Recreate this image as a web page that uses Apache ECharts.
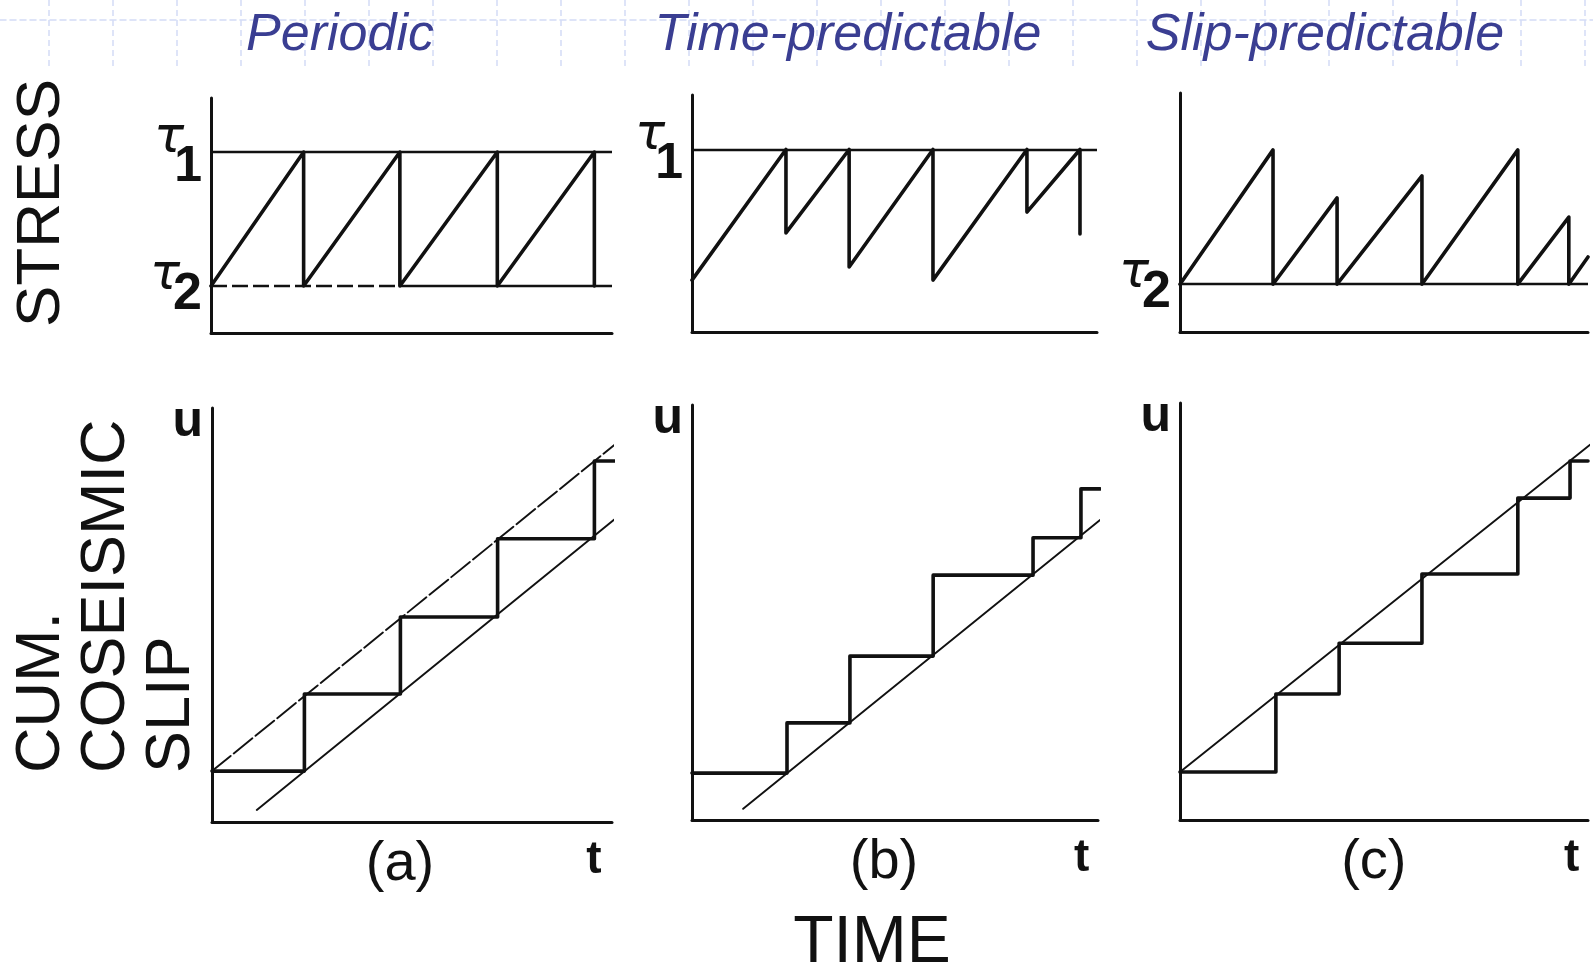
<!DOCTYPE html>
<html>
<head>
<meta charset="utf-8">
<title>Stress and slip in earthquake recurrence models</title>
<script src="https://cdn.jsdelivr.net/npm/echarts@6.0.0/dist/echarts.min.js"></script>
<style>
html, body { margin: 0; padding: 0; background: #fff; }
#chart { width: 1593px; height: 971px; }
</style>
</head>
<body>
<div id="chart"></div>
<script>
const panelTitles = ['Periodic', 'Time-predictable', 'Slip-predictable']
const panelTags = ['(a)', '(b)', '(c)']

// stress levels (axis units 0..10)
const tau1 = 7.7
const tau2 = 2.0
const tau2DashedUntil = 4.71

// stress history, [time, stress]
const periodicStress = [
  [0, 2.0], [2.31, 7.7], [2.31, 2.0], [4.71, 7.7], [4.71, 2.0],
  [7.14, 7.7], [7.14, 2.0], [9.56, 7.7], [9.56, 2.0]
]
const timePredStress = [
  [0, 2.19], [2.32, 7.7], [2.32, 4.18], [3.88, 7.7], [3.88, 2.74],
  [5.95, 7.7], [5.95, 2.19], [8.27, 7.7], [8.27, 5.06], [9.58, 7.7], [9.58, 4.14]
]
const slipPredStress = [
  [0, 2.0], [2.28, 7.62], [2.28, 2.0], [3.85, 5.61], [3.85, 2.0],
  [5.93, 6.53], [5.93, 2.0], [8.28, 7.62], [8.28, 2.0], [9.53, 4.81], [9.53, 2.0], [10, 3.14]
]

// cumulative coseismic slip, [time, slip]
const periodicSlip = [
  [0, 1.23], [2.31, 1.23], [2.31, 3.09], [4.71, 3.09], [4.71, 4.95],
  [7.14, 4.95], [7.14, 6.84], [9.56, 6.84], [9.56, 8.72], [10.08, 8.72]
]
const timePredSlip = [
  [0, 1.13], [2.34, 1.13], [2.34, 2.34], [3.89, 2.34], [3.89, 3.95],
  [5.94, 3.95], [5.94, 5.9], [8.4, 5.9], [8.4, 6.8], [9.58, 6.8], [9.58, 7.98], [10.05, 7.98]
]
const slipPredSlip = [
  [0, 1.15], [2.35, 1.15], [2.35, 3.02], [3.9, 3.02], [3.9, 4.24],
  [5.93, 4.24], [5.93, 5.9], [8.28, 5.9], [8.28, 7.72], [9.56, 7.72], [9.56, 8.61], [10, 8.61]
]

// long-term slip rate lines
const periodicUpper = [[0, 1.23], [10.15, 9.18]]
const periodicLower = [[1.12, 0.29], [10.2, 7.42]]
const timePredLine = [[1.26, 0.27], [10.05, 7.23]]
const slipPredLine = [[0, 1.15], [10.05, 9.0]]

// where the axis captions sit, in axis units
const tagAt = [4.7, 4.73, 4.75]
const tAt = [9.55, 9.6, 9.6]
const uAt = 9.65

const INK = '#111'
const TITLE = '#3a3e92'
const SANS = '"Liberation Sans", Arial, sans-serif'

// panel boxes: stress row then slip row
const boxes = [
  { left: 211, top: 98, width: 401, height: 235 },
  { left: 692, top: 95, width: 405, height: 237 },
  { left: 1180, top: 93, width: 408, height: 239 },
  { left: 212, top: 408, width: 400, height: 414 },
  { left: 692, top: 405, width: 406, height: 415 },
  { left: 1180, top: 403, width: 408, height: 417 }
]

const labelRich = {
  tau: { fontFamily: 'DejaVu Sans', fontStyle: 'italic', fontSize: 50, color: INK, lineHeight: 30, padding: [0, 18, 0, 0] },
  one: { fontFamily: SANS, fontWeight: 'bold', fontSize: 50, color: INK, lineHeight: 26 },
  tauLow: { fontFamily: 'DejaVu Sans', fontStyle: 'italic', fontSize: 50, color: INK, lineHeight: 17, padding: [0, 22, 0, 0] },
  two: { fontFamily: SANS, fontWeight: 'bold', fontSize: 52, color: INK, lineHeight: 20 },
  u: { fontFamily: SANS, fontWeight: 'bold', fontSize: 50, color: INK },
  tag: { fontFamily: SANS, fontSize: 56, color: INK },
  t: { fontFamily: SANS, fontWeight: 'bold', fontSize: 46, color: INK }
}

function xAxisFor(i) {
  const col = i % 3
  const slipRow = i >= 3
  return {
    gridIndex: i,
    type: 'value',
    min: 0,
    max: 10,
    axisLine: { show: true, onZero: false, lineStyle: { color: INK, width: 3 } },
    axisTick: { show: false },
    splitLine: { show: false },
    axisLabel: slipRow ? {
      show: true,
      customValues: [tagAt[col], tAt[col]],
      margin: 15,
      formatter: v => (v === tagAt[col] ? '{tag|' + panelTags[col] + '}' : '{t|t}'),
      rich: labelRich
    } : { show: false }
  }
}

function yAxisFor(i) {
  const values = [[tau2, tau1], [tau1], [tau2], [uAt], [uAt], [uAt]][i]
  return {
    gridIndex: i,
    type: 'value',
    min: 0,
    max: 10,
    axisLine: { show: true, onZero: false, lineStyle: { color: INK, width: 3 } },
    axisTick: { show: false },
    splitLine: { show: false },
    axisLabel: {
      show: true,
      customValues: values,
      margin: 9,
      formatter: v => {
        if (v === uAt) return '{u|u}'
        if (v === tau1) return '{tau|τ}\n{one|1}'
        return '{tauLow|τ}\n{two|2}'
      },
      rich: labelRich
    }
  }
}

function curve(i, data, width, dash) {
  return {
    type: 'line',
    xAxisIndex: i,
    yAxisIndex: i,
    data: data,
    symbol: 'none',
    clip: false,
    silent: true,
    lineStyle: { color: INK, width: width, type: dash || 'solid', join: 'round', cap: 'round' }
  }
}

function levelLines(lines) {
  return {
    symbol: 'none',
    silent: true,
    label: { show: false },
    lineStyle: { color: INK, width: 2.4, type: 'solid' },
    data: lines
  }
}

const series = [
  Object.assign(curve(0, periodicStress, 3.6), {
    markLine: levelLines([
      { yAxis: tau1 },
      [{ coord: [tau2DashedUntil, tau2] }, { coord: [10, tau2] }],
      [{ coord: [0, tau2], lineStyle: { type: [16, 5] } }, { coord: [tau2DashedUntil, tau2] }]
    ])
  }),
  Object.assign(curve(1, timePredStress, 3.6), { markLine: levelLines([{ yAxis: tau1 }]) }),
  Object.assign(curve(2, slipPredStress, 3.6), { markLine: levelLines([{ yAxis: tau2 }]) }),
  curve(3, periodicSlip, 3.6),
  curve(3, periodicUpper, 1.9, [24, 4]),
  curve(3, periodicLower, 1.9),
  curve(4, timePredSlip, 3.6),
  curve(4, timePredLine, 1.9),
  curve(5, slipPredSlip, 3.6),
  curve(5, slipPredLine, 1.9)
]

// faint slide-template grid behind the titles
const bgLine = { color: '#d3dbf6', width: 1.5, type: [6, 4] }
const grids = boxes.concat([
  { left: 49, top: 0, width: 1536, height: 67 },
  { left: 0, top: 19.5, width: 1593, height: 47.5 }
])
const xAxes = boxes.map((b, i) => xAxisFor(i)).concat([
  { gridIndex: 6, type: 'value', min: 0, max: 24, interval: 1, axisLine: { show: false }, axisTick: { show: false }, axisLabel: { show: false }, splitLine: { show: true, lineStyle: bgLine } },
  { gridIndex: 7, type: 'value', min: 0, max: 1, position: 'top', axisLine: { show: true, onZero: false, lineStyle: bgLine }, axisTick: { show: false }, axisLabel: { show: false }, splitLine: { show: false } }
])
const yAxes = boxes.map((b, i) => yAxisFor(i)).concat([
  { gridIndex: 6, type: 'value', min: 0, max: 1, show: false },
  { gridIndex: 7, type: 'value', min: 0, max: 1, show: false }
])

const titleX = [340, 848, 1325]
const textBase = { fill: INK, fontFamily: SANS }

const option = {
  backgroundColor: '#fff',
  animation: false,
  grid: grids,
  xAxis: xAxes,
  yAxis: yAxes,
  series: series,
  graphic: panelTitles.map((t, i) => ({
    type: 'text', x: titleX[i], y: 36, z: 10,
    style: { text: t, fill: TITLE, fontFamily: SANS, fontStyle: 'italic', fontSize: 52, align: 'center', verticalAlign: 'middle' }
  })).concat([
    { type: 'text', x: 42, y: 203, rotation: Math.PI / 2,
      style: Object.assign({ text: 'STRESS', fontSize: 62, align: 'center', verticalAlign: 'middle' }, textBase) },
    { type: 'text', x: 9, y: 773, rotation: Math.PI / 2,
      style: Object.assign({ text: 'CUM.\nCOSEISMIC\nSLIP', fontSize: 63, lineHeight: 65, align: 'left', verticalAlign: 'top' }, textBase) },
    { type: 'text', x: 872, y: 944,
      style: Object.assign({ text: 'TIME', fontSize: 66, align: 'center', verticalAlign: 'middle' }, textBase) }
  ])
}

const chart = echarts.init(document.getElementById('chart'), null, { renderer: 'canvas' })
chart.setOption(option)
</script>
</body>
</html>
